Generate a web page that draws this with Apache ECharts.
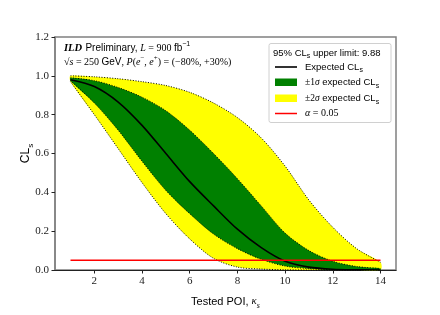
<!DOCTYPE html>
<html><head><meta charset="utf-8">
<script src="https://cdn.jsdelivr.net/npm/echarts@6/dist/echarts.min.js"></script>
<style>html,body{margin:0;padding:0;background:#fff}#c{width:440px;height:315px}</style>
</head><body><div id="c"></div><script>
// ---- data ----
const xs       = [1, 2, 3, 4, 5, 6, 7, 8, 9, 10, 11, 12, 13, 14];
const expected = [0.98, 0.945, 0.865, 0.745, 0.60, 0.455, 0.33, 0.21, 0.115, 0.045, 0.015, 0.004, 0.001, 0.0];
const upper1   = [0.99, 0.975, 0.94, 0.89, 0.82, 0.72, 0.60, 0.47, 0.33, 0.19, 0.10, 0.045, 0.018, 0.008];
const lower1   = [0.975, 0.86, 0.72, 0.56, 0.41, 0.29, 0.185, 0.11, 0.055, 0.02, 0.007, 0.002, 0.0005, 0.0];
const upper2   = [1.0, 0.995, 0.985, 0.97, 0.95, 0.915, 0.86, 0.785, 0.68, 0.535, 0.36, 0.22, 0.11, 0.04];
const lower2   = [0.97, 0.80, 0.625, 0.45, 0.29, 0.16, 0.06, 0.015, 0.005, 0.001, 0.0, 0.0, 0.0, 0.0];
const alphaLevel = 0.05;
const upperLimit = 9.88;
const xTicks = [2, 4, 6, 8, 10, 12, 14];
const yTicks = [0, 0.2, 0.4, 0.6, 0.8, 1.0, 1.2];

const pairs = (ys) => xs.map((x, i) => [x, ys[i]]);
const SM = 0.3;
const tickSerif = "'Liberation Serif'";
const serif = "'Liberation Serif'";
const sans = "'Liberation Sans'";

const chart = echarts.init(document.getElementById('c'), null, {renderer: 'canvas'});

function richSet(size, color) {
  const lh = Math.round(size * 1.5);
  const sub = Math.round(size * 0.7);
  return {
    a: {fontFamily: sans, fontSize: size, color: color, lineHeight: lh},
    r: {fontFamily: serif, fontSize: size, color: color, lineHeight: lh},
    k: {fontFamily: serif, fontStyle: 'italic', fontSize: size, color: color, lineHeight: lh},
    s: {fontFamily: sans, fontSize: sub, color: color, lineHeight: sub + 1, verticalAlign: 'bottom'},
    ks: {fontFamily: serif, fontStyle: 'italic', fontSize: sub, color: color, lineHeight: sub + 1, verticalAlign: 'bottom'},
    sup: {fontFamily: sans, fontSize: sub, color: color, lineHeight: sub + 1, verticalAlign: 'top'},
    rsup: {fontFamily: serif, fontSize: sub, color: color, lineHeight: sub + 1, verticalAlign: 'top'},
    b: {fontFamily: serif, fontStyle: 'italic', fontWeight: 'bold', fontSize: size + 0.5, color: color, lineHeight: lh}
  };
}
// graphic text uses 'fill' rather than 'color'
function gRich(size) {
  const r = richSet(size, '#000');
  Object.keys(r).forEach(k => { r[k].fill = '#000'; });
  return r;
}

function bandItem(api, up, lo, color) {
  const top = xs.map((x, i) => api.coord([x, up[i]]));
  const bot = xs.map((x, i) => api.coord([x, lo[i]]));
  const dash = {stroke: '#000', lineWidth: 1, lineDash: [1, 1.6], fill: null};
  return [
    {type: 'polygon', shape: {points: top.concat(bot.slice().reverse()), smooth: SM}, style: {fill: color, stroke: null}},
    {type: 'polyline', shape: {points: top, smooth: SM}, style: dash},
    {type: 'polyline', shape: {points: bot, smooth: SM}, style: dash}
  ];
}

const lg = gRich(9.5);

chart.setOption({
  animation: false,
  backgroundColor: '#fff',
  grid: {left: 55, right: 44, top: 37, bottom: 35, show: true, borderColor: '#808080', borderWidth: 1.5, backgroundColor: '#fff'},
  xAxis: {
    type: 'value', min: 0.35, max: 14.65,
    axisLine: {show: true, onZero: false, lineStyle: {color: '#222', width: 1.2}},
    axisTick: {show: true, customValues: xTicks, length: 3.5, lineStyle: {color: '#222', width: 1}},
    axisLabel: {customValues: xTicks, fontFamily: tickSerif, fontSize: 11, color: '#222', margin: 6},
    splitLine: {show: false},
    name: '{a|Tested POI, }{k|κ}{ks|s}', nameLocation: 'middle', nameGap: 23, nameMoveOverlap: false,
    nameTextStyle: {rich: richSet(11, '#000')}
  },
  yAxis: {
    type: 'value', min: 0, max: 1.2, interval: 0.2,
    axisLine: {show: true, lineStyle: {color: '#808080', width: 1.5}},
    axisTick: {show: true, customValues: yTicks, length: 3.5, lineStyle: {color: '#222', width: 1}},
    axisLabel: {customValues: yTicks, fontFamily: tickSerif, fontSize: 11, color: '#222', margin: 6, formatter: v => v.toFixed(1)},
    splitLine: {show: false},
    name: '{a|CL}{s|s}', nameLocation: 'middle', nameGap: 20, nameMoveOverlap: false,
    nameTextStyle: {rich: richSet(12, '#000')}
  },
  series: [
    {name: '±2σ expected CLs', type: 'custom', z: 2, silent: true,
      data: [[xs[0], upper2[0]]], encode: {x: 0, y: 1},
      renderItem: (params, api) => ({type: 'group', children: bandItem(api, upper2, lower2, '#ffff00')})},
    {name: '±1σ expected CLs', type: 'custom', z: 3, silent: true,
      data: [[xs[0], upper1[0]]], encode: {x: 0, y: 1},
      renderItem: (params, api) => ({type: 'group', children: bandItem(api, upper1, lower1, '#008000')})},
    {name: 'Expected CLs', type: 'line', data: pairs(expected), smooth: SM, symbol: 'none', lineStyle: {color: '#000', width: 1.6}, z: 5},
    {name: 'α = 0.05', type: 'line', data: [[xs[0], alphaLevel], [xs[xs.length - 1], alphaLevel]], symbol: 'none', lineStyle: {color: '#ff0000', width: 1.5}, z: 6}
  ],
  graphic: [
    // annotation
    {type: 'text', x: 64, y: 48, z: 10, style: {
      text: '{b|ILD} {a|Preliminary, }{k|L}{r| = 900 }{a|fb}{sup|−1}',
      verticalAlign: 'middle', rich: gRich(10)
    }},
    {type: 'text', x: 64, y: 62, z: 10, style: {
      text: '{r|√}{k|s}{r| = 250 }{a|GeV}{r|, }{k|P}{r|(}{k|e}{rsup|−}{r|, }{k|e}{rsup|+}{r|) = (−80%, +30%)}',
      verticalAlign: 'middle', rich: gRich(10)
    }},
    // legend box
    {type: 'rect', z: 10, shape: {x: 269, y: 43.5, width: 122, height: 79, r: 2}, style: {fill: 'rgba(255,255,255,0.85)', stroke: '#d0d0d0', lineWidth: 1}},
    {type: 'text', x: 273, y: 53, z: 11, style: {text: '{a|95% CL}{s|s}{a| upper limit: ' + upperLimit.toFixed(2) + '}', verticalAlign: 'middle', rich: lg}},
    {type: 'line', z: 11, shape: {x1: 275, y1: 67, x2: 297, y2: 67}, style: {stroke: '#000', lineWidth: 1.6}},
    {type: 'text', x: 305, y: 67, z: 11, style: {text: '{a|Expected CL}{s|s}', verticalAlign: 'middle', rich: lg}},
    {type: 'rect', z: 11, shape: {x: 275, y: 78.5, width: 22, height: 7.5}, style: {fill: '#008000'}},
    {type: 'text', x: 305, y: 82.5, z: 11, style: {text: '{r|±1}{k|σ}{a| expected CL}{s|s}', verticalAlign: 'middle', rich: lg}},
    {type: 'rect', z: 11, shape: {x: 275, y: 94.5, width: 22, height: 7.5}, style: {fill: '#ffff00'}},
    {type: 'text', x: 305, y: 98.5, z: 11, style: {text: '{r|±2}{k|σ}{a| expected CL}{s|s}', verticalAlign: 'middle', rich: lg}},
    {type: 'line', z: 11, shape: {x1: 275, y1: 113.5, x2: 297, y2: 113.5}, style: {stroke: '#ff0000', lineWidth: 1.5}},
    {type: 'text', x: 305, y: 113.5, z: 11, style: {text: '{k|α}{r| = 0.05}', verticalAlign: 'middle', rich: gRich(10)}}
  ]
});
</script></body></html>
